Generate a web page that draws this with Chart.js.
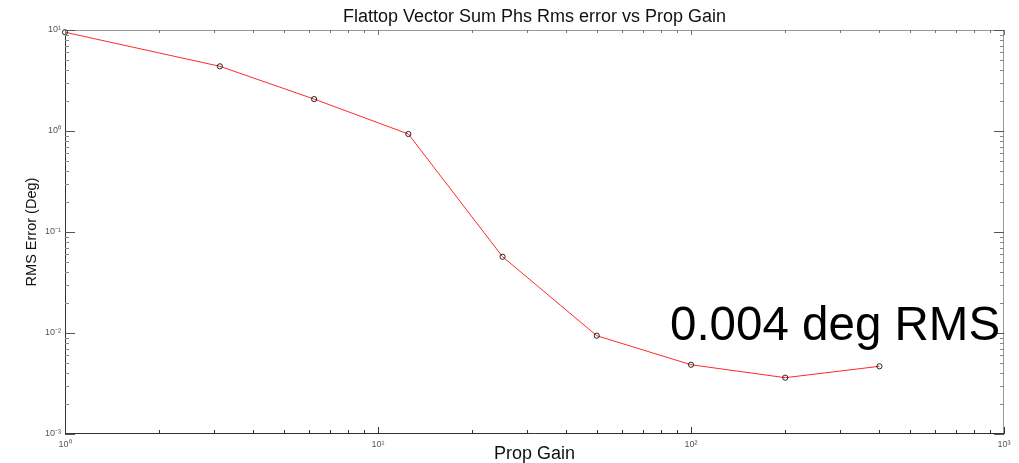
<!DOCTYPE html>
<html>
<head>
<meta charset="utf-8">
<script src="https://cdn.jsdelivr.net/npm/chart.js@4/dist/chart.umd.min.js"></script>
<style>
  html, body { margin: 0; padding: 0; background: #fff; }
  #wrap { width: 1019px; height: 463px; position: relative; }
</style>
</head>
<body>
<div id="wrap"><canvas id="c"></canvas></div>
<script>
const chartTitle = "Flattop Vector Sum Phs Rms error vs Prop Gain";
const xTitle = "Prop Gain";
const yTitle = "RMS Error (Deg)";
const annotationText = "0.004 deg RMS";
const propGain = [1, 3.125, 6.25, 12.5, 25, 50, 100, 200, 400];
const rmsError = [9.5, 4.37, 2.07, 0.934, 0.0569, 0.0094, 0.00485, 0.00361, 0.00468];
const xDecades = [0, 1, 2, 3];
const yDecades = [-3, -2, -1, 0, 1];

const sup = {"0":"⁰","1":"¹","2":"²","3":"³","-":"⁻"};
function powLabel(e) { return "10" + String(e).split("").map(ch => sup[ch]).join(""); }

function buildLogTicks(decades) {
  const t = [];
  for (let i = 0; i < decades.length; i++) {
    const base = Math.pow(10, decades[i]);
    if (i === decades.length - 1) { t.push({value: base, major: true}); break; }
    for (let m = 1; m <= 9; m++) t.push({value: m * base, major: m === 1});
  }
  return t;
}

const inwardTicks = {
  id: 'inwardTicks',
  afterDraw(chart) {
    const {ctx, chartArea: a, scales: {x, y}} = chart;
    ctx.save();
    ctx.lineWidth = 1;
    ctx.strokeStyle = '#999';
    ctx.beginPath();
    ctx.moveTo(a.left, a.top + 0.5); ctx.lineTo(a.right, a.top + 0.5);
    ctx.moveTo(a.right - 0.5, a.top); ctx.lineTo(a.right - 0.5, a.bottom);
    ctx.stroke();
    ctx.strokeStyle = '#333';
    ctx.beginPath();
    ctx.moveTo(a.left + 0.5, a.top); ctx.lineTo(a.left + 0.5, a.bottom);
    ctx.moveTo(a.left, a.bottom - 0.5); ctx.lineTo(a.right, a.bottom - 0.5);
    ctx.stroke();
    x.ticks.forEach(t => {
      const px = Math.round(x.getPixelForValue(t.value)) + 0.5;
      const L = t.major ? 7 : 4;
      ctx.strokeStyle = '#333';
      ctx.beginPath(); ctx.moveTo(px, a.bottom); ctx.lineTo(px, a.bottom - L); ctx.stroke();
      ctx.strokeStyle = '#777';
      ctx.beginPath(); ctx.moveTo(px, a.top); ctx.lineTo(px, a.top + (t.major ? 5 : 3)); ctx.stroke();
    });
    y.ticks.forEach(t => {
      const py = Math.round(y.getPixelForValue(t.value)) + 0.5;
      const L = t.major ? 10 : 4;
      ctx.strokeStyle = t.major ? '#555' : '#888';
      ctx.beginPath(); ctx.moveTo(a.left, py); ctx.lineTo(a.left + L, py); ctx.stroke();
      ctx.beginPath(); ctx.moveTo(a.right, py); ctx.lineTo(a.right - L, py); ctx.stroke();
    });
    ctx.fillStyle = '#000';
    ctx.font = '47.5px "Liberation Sans", Arial, sans-serif';
    ctx.textBaseline = 'alphabetic';
    ctx.textAlign = 'left';
    ctx.fillText(annotationText, 670, 340);
    ctx.restore();
  }
};

const tickFont = {family: '"Liberation Sans", Arial, sans-serif', size: 9};

new Chart(document.getElementById('c'), {
  type: 'line',
  data: {
    labels: propGain,
    datasets: [{
      data: propGain.map((g, i) => ({x: g, y: rmsError[i]})),
      borderColor: '#ff2a2a',
      borderWidth: 1,
      pointRadius: 2.6,
      pointBorderWidth: 0.9,
      pointBorderColor: '#111',
      pointBackgroundColor: 'rgba(255,255,255,0)',
      tension: 0,
      clip: false
    }]
  },
  options: {
    responsive: true,
    maintainAspectRatio: false,
    animation: false,
    layout: {padding: {left: 0, right: 15, top: 0, bottom: 0}},
    plugins: {
      legend: {display: false},
      tooltip: {enabled: false},
      title: {
        display: true, text: chartTitle, color: '#111', fullSize: false,
        font: {family: '"Liberation Sans", Arial, sans-serif', size: 18, weight: 'normal', lineHeight: '20px'},
        padding: {top: 7, bottom: 3}
      }
    },
    scales: {
      x: {
        type: 'logarithmic', min: 1, max: 1000,
        afterBuildTicks: s => { s.ticks = buildLogTicks(xDecades); },
        afterFit: s => { s.height = 29; },
        grid: {display: false, drawTicks: false},
        border: {display: false},
        ticks: {
          autoSkip: false, maxRotation: 0, padding: 5, color: '#555', font: tickFont,
          callback: function(v) { const e = Math.log10(v); return Math.abs(e - Math.round(e)) < 1e-9 ? powLabel(Math.round(e)) : ''; }
        },
        title: {display: true, text: xTitle, color: '#111', padding: {top: 0, bottom: 0},
          font: {family: '"Liberation Sans", Arial, sans-serif', size: 18, lineHeight: '18px'}}
      },
      y: {
        type: 'logarithmic', min: 0.001, max: 10,
        afterBuildTicks: s => { s.ticks = buildLogTicks(yDecades); },
        afterFit: s => { s.width = 65; },
        grid: {display: false, drawTicks: false},
        border: {display: false},
        ticks: {
          autoSkip: false, padding: 4, color: '#555', font: tickFont,
          callback: function(v) { const e = Math.log10(v); return Math.abs(e - Math.round(e)) < 1e-9 ? powLabel(Math.round(e)) : ''; }
        },
        title: {display: true, text: yTitle, color: '#111', padding: {top: 23, bottom: 0},
          font: {family: '"Liberation Sans", Arial, sans-serif', size: 14.5}}
      }
    }
  },
  plugins: [inwardTicks]
});
</script>
</body>
</html>
